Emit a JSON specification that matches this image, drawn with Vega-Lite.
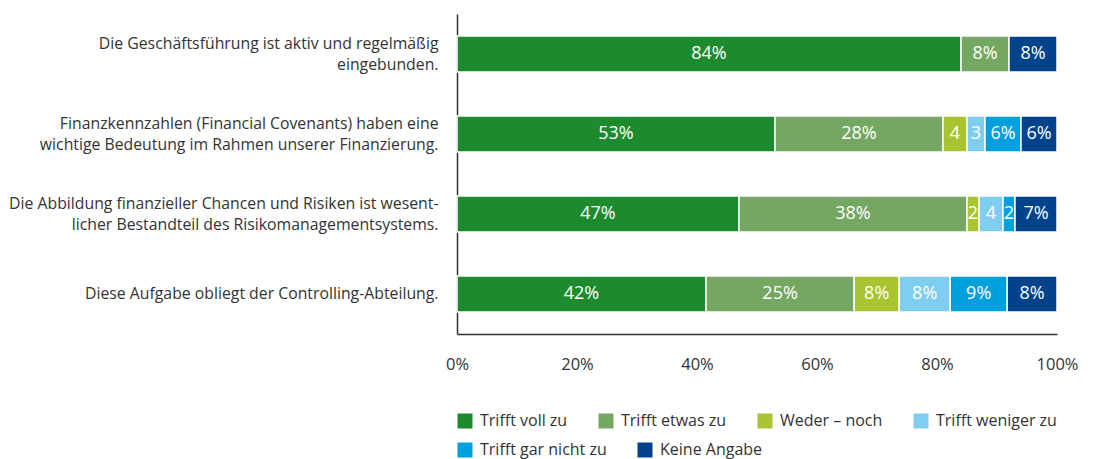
{
  "$schema": "https://vega.github.io/schema/vega-lite/v6.json",
  "width": 600,
  "height": 320,
  "padding": {"left": 5, "top": 14, "right": 5, "bottom": 3},
  "autosize": {"type": "pad"},
  "config": {
    "view": {"stroke": null},
    "font": "Open Sans",
    "text": {"font": "Open Sans"},
    "legend": {
      "layout": {"bottom": {"direction": "vertical", "anchor": "start", "margin": 13}}
    }
  },
  "data": {
    "values": [
      {"item": "Die Geschäftsführung ist aktiv und regelmäßig|eingebunden.", "k": 1, "cat": "Trifft voll zu", "value": 84, "label": "84%"},
      {"item": "Die Geschäftsführung ist aktiv und regelmäßig|eingebunden.", "k": 2, "cat": "Trifft etwas zu", "value": 8, "label": "8%"},
      {"item": "Die Geschäftsführung ist aktiv und regelmäßig|eingebunden.", "k": 6, "cat": "Keine Angabe", "value": 8, "label": "8%"},
      {"item": "Finanzkennzahlen (Financial Covenants) haben eine|wichtige Bedeutung im Rahmen unserer Finanzierung.", "k": 1, "cat": "Trifft voll zu", "value": 53, "label": "53%"},
      {"item": "Finanzkennzahlen (Financial Covenants) haben eine|wichtige Bedeutung im Rahmen unserer Finanzierung.", "k": 2, "cat": "Trifft etwas zu", "value": 28, "label": "28%"},
      {"item": "Finanzkennzahlen (Financial Covenants) haben eine|wichtige Bedeutung im Rahmen unserer Finanzierung.", "k": 3, "cat": "Weder – noch", "value": 4, "label": "4"},
      {"item": "Finanzkennzahlen (Financial Covenants) haben eine|wichtige Bedeutung im Rahmen unserer Finanzierung.", "k": 4, "cat": "Trifft weniger zu", "value": 3, "label": "3"},
      {"item": "Finanzkennzahlen (Financial Covenants) haben eine|wichtige Bedeutung im Rahmen unserer Finanzierung.", "k": 5, "cat": "Trifft gar nicht zu", "value": 6, "label": "6%"},
      {"item": "Finanzkennzahlen (Financial Covenants) haben eine|wichtige Bedeutung im Rahmen unserer Finanzierung.", "k": 6, "cat": "Keine Angabe", "value": 6, "label": "6%"},
      {"item": "Die Abbildung finanzieller Chancen und Risiken ist wesent-|licher Bestandteil des Risikomanagementsystems.", "k": 1, "cat": "Trifft voll zu", "value": 47, "label": "47%"},
      {"item": "Die Abbildung finanzieller Chancen und Risiken ist wesent-|licher Bestandteil des Risikomanagementsystems.", "k": 2, "cat": "Trifft etwas zu", "value": 38, "label": "38%"},
      {"item": "Die Abbildung finanzieller Chancen und Risiken ist wesent-|licher Bestandteil des Risikomanagementsystems.", "k": 3, "cat": "Weder – noch", "value": 2, "label": "2"},
      {"item": "Die Abbildung finanzieller Chancen und Risiken ist wesent-|licher Bestandteil des Risikomanagementsystems.", "k": 4, "cat": "Trifft weniger zu", "value": 4, "label": "4"},
      {"item": "Die Abbildung finanzieller Chancen und Risiken ist wesent-|licher Bestandteil des Risikomanagementsystems.", "k": 5, "cat": "Trifft gar nicht zu", "value": 2, "label": "2"},
      {"item": "Die Abbildung finanzieller Chancen und Risiken ist wesent-|licher Bestandteil des Risikomanagementsystems.", "k": 6, "cat": "Keine Angabe", "value": 7, "label": "7%"},
      {"item": "Diese Aufgabe obliegt der Controlling-Abteilung.", "k": 1, "cat": "Trifft voll zu", "value": 41.5, "label": "42%"},
      {"item": "Diese Aufgabe obliegt der Controlling-Abteilung.", "k": 2, "cat": "Trifft etwas zu", "value": 24.7, "label": "25%"},
      {"item": "Diese Aufgabe obliegt der Controlling-Abteilung.", "k": 3, "cat": "Weder – noch", "value": 7.5, "label": "8%"},
      {"item": "Diese Aufgabe obliegt der Controlling-Abteilung.", "k": 4, "cat": "Trifft weniger zu", "value": 8.5, "label": "8%"},
      {"item": "Diese Aufgabe obliegt der Controlling-Abteilung.", "k": 5, "cat": "Trifft gar nicht zu", "value": 9.5, "label": "9%"},
      {"item": "Diese Aufgabe obliegt der Controlling-Abteilung.", "k": 6, "cat": "Keine Angabe", "value": 8.3, "label": "8%"}
    ]
  },
  "transform": [
    {"stack": "value", "groupby": ["item"], "sort": [{"field": "k"}], "offset": "normalize", "as": ["v0", "v1"]},
    {"calculate": "(datum.v0 + datum.v1) / 2", "as": "mid"}
  ],
  "encoding": {
    "y": {
      "field": "item",
      "type": "nominal",
      "sort": null,
      "scale": {"paddingInner": 0.55, "paddingOuter": 0.275},
      "axis": {
        "title": null,
        "domain": true,
        "domainColor": "#333333",
        "domainWidth": 1.5,
        "ticks": false,
        "labelPadding": 19,
        "minExtent": 452,
        "maxExtent": 452,
        "labelFontSize": 15.8,
        "labelLineHeight": 21,
        "labelColor": "#333333",
        "labelLimit": 600,
        "labelOffset": {"condition": {"test": "indexof(datum.label, '|') >= 0", "value": -10.5}, "value": 0},
        "labelExpr": "split(datum.label, '|')"
      }
    }
  },
  "resolve": {"scale": {"color": "independent"}, "legend": {"color": "independent"}},
  "layer": [
    {
      "mark": {"type": "bar", "stroke": "white", "strokeWidth": 1.5},
      "encoding": {
        "x": {
          "field": "v0",
          "type": "quantitative",
          "scale": {"domain": [0, 1], "nice": false},
          "axis": {
            "title": null,
            "values": [0, 0.2, 0.4, 0.6, 0.8, 1],
            "format": ".0%",
            "domain": true,
            "domainColor": "#333333",
            "domainWidth": 1.5,
            "ticks": false,
            "grid": false,
            "labelPadding": 22,
            "labelFontSize": 16.5,
            "labelColor": "#333333",
            "labelFlush": false
          }
        },
        "x2": {"field": "v1"},
        "color": {
          "field": "cat",
          "type": "nominal",
          "scale": {
            "domain": ["Trifft voll zu", "Trifft etwas zu", "Weder – noch", "Trifft weniger zu", "Trifft gar nicht zu", "Keine Angabe"],
            "range": ["#1d8a2e", "#74a862", "#a8c431", "#7fcdef", "#009fdd", "#00438a"]
          },
          "legend": null
        }
      }
    },
    {
      "mark": {"type": "text", "color": "white", "fontSize": 18, "align": "center", "baseline": "middle"},
      "encoding": {
        "x": {"field": "mid", "type": "quantitative"},
        "text": {"field": "label"}
      }
    },
    {
      "transform": [{"filter": "datum.k <= 4"}],
      "mark": {"type": "point", "shape": "square", "filled": true, "opacity": 0},
      "encoding": {
        "x": {"field": "mid", "type": "quantitative"},
        "color": {
          "field": "cat",
          "type": "nominal",
          "scale": {
            "domain": ["Trifft voll zu", "Trifft etwas zu", "Weder – noch", "Trifft weniger zu"],
            "range": ["#1d8a2e", "#74a862", "#a8c431", "#7fcdef"]
          },
          "legend": {
            "title": null,
            "orient": "bottom",
            "direction": "horizontal",
            "symbolType": "square",
            "symbolSize": 225,
            "symbolOpacity": 1,
            "symbolStrokeWidth": 0,
            "labelFontSize": 16,
            "labelColor": "#333333",
            "labelOffset": 7,
            "labelLimit": 300,
            "columnPadding": 30,
            "gridAlign": "none",
            "offset": 40
          }
        }
      }
    },
    {
      "transform": [{"filter": "datum.k >= 5"}],
      "mark": {"type": "point", "shape": "square", "filled": true, "opacity": 0},
      "encoding": {
        "x": {"field": "mid", "type": "quantitative"},
        "color": {
          "field": "cat",
          "type": "nominal",
          "scale": {
            "domain": ["Trifft gar nicht zu", "Keine Angabe"],
            "range": ["#009fdd", "#00438a"]
          },
          "legend": {
            "title": null,
            "orient": "bottom",
            "direction": "horizontal",
            "symbolType": "square",
            "symbolSize": 225,
            "symbolOpacity": 1,
            "symbolStrokeWidth": 0,
            "labelFontSize": 16,
            "labelColor": "#333333",
            "labelOffset": 7,
            "labelLimit": 300,
            "columnPadding": 30,
            "gridAlign": "none",
            "offset": 40
          }
        }
      }
    }
  ]
}
